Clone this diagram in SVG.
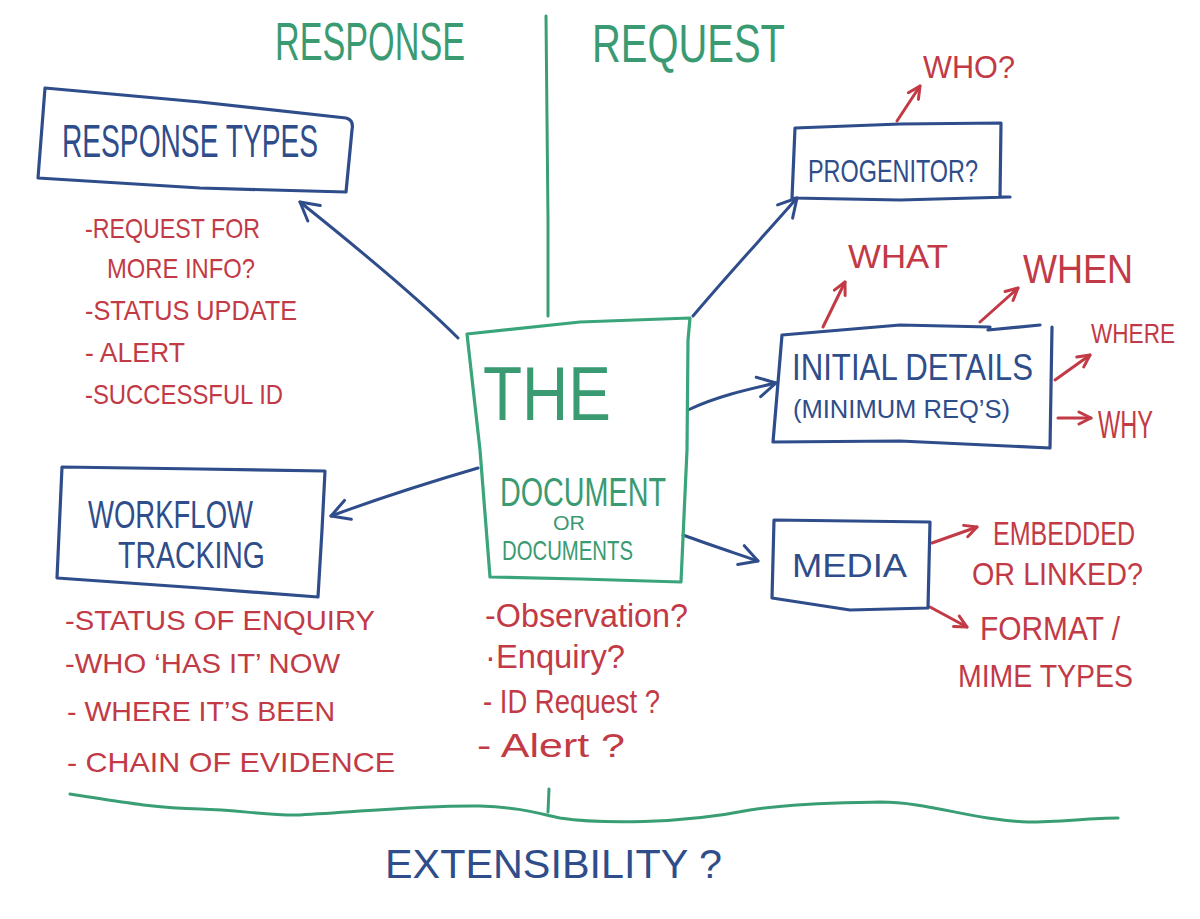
<svg xmlns="http://www.w3.org/2000/svg" width="1200" height="919" viewBox="0 0 1200 919">
<defs>
<style>
.t{font-family:"Liberation Sans Narrow","Liberation Sans","DejaVu Sans",sans-serif;}
.g{fill:#3a9a72;}
.b{fill:#2f4d8a;}
.r{fill:#c23a46;}
.box{fill:none;stroke:#2f4d8a;stroke-width:3.2;stroke-linejoin:round;stroke-linecap:round;}
.gbox{fill:none;stroke:#3aa57a;stroke-width:3.2;stroke-linejoin:round;stroke-linecap:round;}
.cb{fill:none;stroke:#2f4d8a;stroke-width:3;stroke-linecap:round;}
.cr{fill:none;stroke:#c23a46;stroke-width:3;stroke-linecap:round;}
.cg{fill:none;stroke:#3a9e74;stroke-width:3;stroke-linecap:round;}
</style>
<marker id="ab" viewBox="0 0 24 24" refX="21" refY="12" markerWidth="24" markerHeight="24" markerUnits="userSpaceOnUse" orient="auto">
<path d="M3,2 L21,12 L3,22" fill="none" stroke="#2f4d8a" stroke-width="3" stroke-linecap="round" stroke-linejoin="round"/>
</marker>
<marker id="ar" viewBox="0 0 16 16" refX="14" refY="8" markerWidth="16" markerHeight="16" markerUnits="userSpaceOnUse" orient="auto">
<path d="M2,2 L14,8 L2,14" fill="none" stroke="#c23a46" stroke-width="3" stroke-linecap="round" stroke-linejoin="round"/>
</marker>
</defs>
<rect width="1200" height="919" fill="#ffffff"/>

<g id="headers">
<text class="t g" x="275" y="60" font-size="54" textLength="190" lengthAdjust="spacingAndGlyphs">RESPONSE</text>
<text class="t g" x="592" y="62" font-size="54" textLength="193" lengthAdjust="spacingAndGlyphs">REQUEST</text>
<path class="cg" d="M546,16 L547,120 L548,220 L548,316"/>
<path class="cg" d="M70,794 C110,800 150,808 200,809 C240,810 270,816 300,815 C360,812 420,805 480,806 C520,807 540,814 560,818 C600,824 680,824 750,810 C800,802 850,803 880,802 C930,802 970,820 1028,822 C1060,822 1090,818 1118,818"/>
<path class="cg" d="M549,789 L548,812" stroke-width="2.5"/>
</g>

<g id="connectors">
<path class="cb" d="M458,338 C420,300 360,250 300,202" marker-end="url(#ab)"/>
<path class="cb" d="M478,468 C430,482 380,498 331,516" marker-end="url(#ab)"/>
<path class="cb" d="M693,316 C725,278 760,240 797,198" marker-end="url(#ab)"/>
<path class="cb" d="M688,410 C715,397 745,390 776,383" marker-end="url(#ab)"/>
<path class="cb" d="M683,535 C710,545 735,553 758,561" marker-end="url(#ab)"/>
<path class="cr" d="M897,121 L920,86" marker-end="url(#ar)"/>
<path class="cr" d="M823,327 L845,282" marker-end="url(#ar)"/>
<path class="cr" d="M980,322 L1018,288" marker-end="url(#ar)"/>
<path class="cr" d="M1055,380 L1090,355" marker-end="url(#ar)"/>
<path class="cr" d="M1058,418 L1091,418" marker-end="url(#ar)"/>
<path class="cr" d="M932,543 L977,527" marker-end="url(#ar)"/>
<path class="cr" d="M930,607 L967,627" marker-end="url(#ar)"/>
</g>

<g id="response-types">
<path class="box" d="M45,88 L200,102 L346,118 Q354,120 352,130 L346,192 L200,188 L38,178 Z"/>
<text class="t b" x="62" y="157" font-size="46" textLength="256" lengthAdjust="spacingAndGlyphs">RESPONSE TYPES</text>
<text class="t r" x="85" y="238" font-size="28" textLength="175" lengthAdjust="spacingAndGlyphs">-REQUEST FOR</text>
<text class="t r" x="107" y="278" font-size="28" textLength="148" lengthAdjust="spacingAndGlyphs">MORE INFO?</text>
<text class="t r" x="85" y="320" font-size="28" textLength="212" lengthAdjust="spacingAndGlyphs">-STATUS UPDATE</text>
<text class="t r" x="85" y="362" font-size="28" textLength="100" lengthAdjust="spacingAndGlyphs">- ALERT</text>
<text class="t r" x="85" y="404" font-size="28" textLength="198" lengthAdjust="spacingAndGlyphs">-SUCCESSFUL ID</text>
</g>

<g id="document">
<path class="gbox" d="M467,334 L580,322 L690,318 L688,340 L687,450 L681,582 L580,579 L490,577 L480,450 Z"/>
<text class="t g" x="483" y="420" font-size="76" textLength="128" lengthAdjust="spacingAndGlyphs">THE</text>
<text class="t g" x="500" y="506" font-size="40" textLength="166" lengthAdjust="spacingAndGlyphs">DOCUMENT</text>
<text class="t g" x="553" y="530" font-size="20" textLength="32" lengthAdjust="spacingAndGlyphs">OR</text>
<text class="t g" x="502" y="560" font-size="28" textLength="131" lengthAdjust="spacingAndGlyphs">DOCUMENTS</text>
<text class="t r" x="485" y="627" font-size="34" textLength="203" lengthAdjust="spacingAndGlyphs">-Observation?</text>
<text class="t r" x="485" y="668" font-size="34" textLength="140" lengthAdjust="spacingAndGlyphs">·Enquiry?</text>
<text class="t r" x="483" y="713" font-size="34" textLength="177" lengthAdjust="spacingAndGlyphs">- ID Request ?</text>
<text class="t r" x="477" y="757" font-size="34" textLength="148" lengthAdjust="spacingAndGlyphs">- Alert ?</text>
</g>

<g id="workflow-tracking">
<path class="box" d="M62,467 L200,469 L325,471 L322,530 L318,597 L200,588 L57,578 Z"/>
<text class="t b" x="88" y="528" font-size="38" textLength="165" lengthAdjust="spacingAndGlyphs">WORKFLOW</text>
<text class="t b" x="118" y="568" font-size="36" textLength="147" lengthAdjust="spacingAndGlyphs">TRACKING</text>
<text class="t r" x="65" y="630" font-size="28" textLength="310" lengthAdjust="spacingAndGlyphs">-STATUS OF ENQUIRY</text>
<text class="t r" x="65" y="673" font-size="28" textLength="275" lengthAdjust="spacingAndGlyphs">-WHO ‘HAS IT’ NOW</text>
<text class="t r" x="67" y="721" font-size="28" textLength="268" lengthAdjust="spacingAndGlyphs">- WHERE IT’S BEEN</text>
<text class="t r" x="67" y="772" font-size="28" textLength="328" lengthAdjust="spacingAndGlyphs">- CHAIN OF EVIDENCE</text>
</g>

<g id="progenitor">
<path class="box" d="M795,128 L900,124 L1001,123 L1000,197 L1010,197 L900,200 L792,198 Z"/>
<text class="t b" x="808" y="182" font-size="32" textLength="170" lengthAdjust="spacingAndGlyphs">PROGENITOR?</text>
<text class="t r" x="923" y="78" font-size="32" textLength="92" lengthAdjust="spacingAndGlyphs">WHO?</text>
</g>

<g id="initial-details">
<path class="box" d="M782,335 L900,325 L990,327 M988,330 L1040,325 M1052,327 L1050,448 L900,441 L773,442 L782,335"/>
<text class="t b" x="792" y="380" font-size="37" textLength="241" lengthAdjust="spacingAndGlyphs">INITIAL DETAILS</text>
<text class="t b" x="793" y="418" font-size="26" textLength="217" lengthAdjust="spacingAndGlyphs">(MINIMUM REQ’S)</text>
<text class="t r" x="848" y="268" font-size="34" textLength="100" lengthAdjust="spacingAndGlyphs">WHAT</text>
<text class="t r" x="1023" y="283" font-size="40" textLength="110" lengthAdjust="spacingAndGlyphs">WHEN</text>
<text class="t r" x="1091" y="343" font-size="27" textLength="84" lengthAdjust="spacingAndGlyphs">WHERE</text>
<text class="t r" x="1098" y="438" font-size="38" textLength="55" lengthAdjust="spacingAndGlyphs">WHY</text>
</g>

<g id="media">
<path class="box" d="M774,520 L930,522 L928,608 L850,610 L772,598 Z"/>
<text class="t b" x="792" y="577" font-size="34" textLength="115" lengthAdjust="spacingAndGlyphs">MEDIA</text>
<text class="t r" x="993" y="545" font-size="34" textLength="142" lengthAdjust="spacingAndGlyphs">EMBEDDED</text>
<text class="t r" x="972" y="585" font-size="32" textLength="171" lengthAdjust="spacingAndGlyphs">OR LINKED?</text>
<text class="t r" x="980" y="640" font-size="34" textLength="140" lengthAdjust="spacingAndGlyphs">FORMAT /</text>
<text class="t r" x="958" y="687" font-size="32" textLength="175" lengthAdjust="spacingAndGlyphs">MIME TYPES</text>
</g>

<g id="extensibility">
<text class="t b" x="385" y="878" font-size="40" textLength="337" lengthAdjust="spacingAndGlyphs">EXTENSIBILITY ?</text>
</g>
</svg>
